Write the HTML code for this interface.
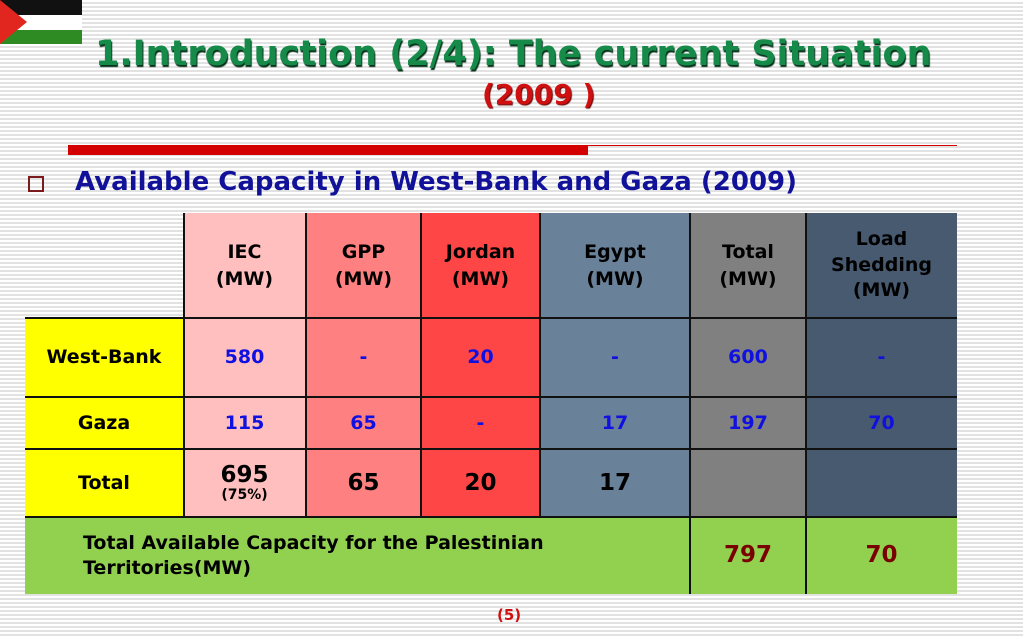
<!DOCTYPE html>
<html><head><meta charset="utf-8"><style>
body{margin:0;width:1023px;height:638px;overflow:hidden;position:relative;font-family:"DejaVu Sans","Liberation Sans",sans-serif;
background:repeating-linear-gradient(to bottom,#fff 0,#fff 2px,#e2e2e2 2px,#e2e2e2 4px);}
.a{position:absolute}
.c{position:absolute;box-sizing:border-box;display:flex;align-items:center;justify-content:center;text-align:center;font-family:"DejaVu Sans","Liberation Sans",sans-serif;font-weight:bold;font-size:19px;color:#000;line-height:1.4}
.b{color:#1010e0}
.ln{position:absolute;background:#111}
</style></head><body>
<svg class="a" style="left:0;top:0" width="82" height="44">
<rect width="82" height="15" fill="#111"/><rect y="15" width="82" height="15" fill="#fff"/><rect y="30" width="82" height="14" fill="#2e8b24"/>
<polygon points="0,0 27,22 0,44" fill="#e0261f"/></svg>
<div class="a" style="left:95px;top:34px;white-space:nowrap;font-size:35px;font-weight:bold;color:#168a48;text-shadow:1px 2px 1px #06301a">1.Introduction (2/4): The current Situation</div>
<div class="a" style="left:482px;top:78px;font-size:28px;font-weight:bold;color:#d01010;text-shadow:1px 1px 1px #600">(2009 )</div>
<div class="a" style="left:68px;top:145px;width:520px;height:10px;background:#d40000"></div>
<div class="a" style="left:588px;top:145px;width:369px;height:1px;background:#d40000"></div>
<div class="a" style="left:28px;top:176px;width:16px;height:16px;border:2px solid #7a1a1a;box-sizing:border-box"></div>
<div class="a" style="left:75px;top:167px;white-space:nowrap;font-size:26px;font-weight:bold;color:#111199">Available Capacity in West-Bank and Gaza (2009)</div>

<div class="c" style="left:183px;top:213px;width:123px;height:105px;background:#ffbfbf">IEC<br>(MW)</div>
<div class="c" style="left:306px;top:213px;width:115px;height:105px;background:#ff8080">GPP<br>(MW)</div>
<div class="c" style="left:421px;top:213px;width:119px;height:105px;background:#ff4646">Jordan<br>(MW)</div>
<div class="c" style="left:540px;top:213px;width:150px;height:105px;background:#6a8299">Egypt<br>(MW)</div>
<div class="c" style="left:690px;top:213px;width:116px;height:105px;background:#808080">Total<br>(MW)</div>
<div class="c" style="left:806px;top:213px;width:151px;height:105px;background:#475a70;line-height:1.35">Load<br>Shedding<br>(MW)</div>

<div class="c" style="left:25px;top:318px;width:158px;height:79px;background:#ffff00">West-Bank</div>
<div class="c b" style="left:183px;top:318px;width:123px;height:79px;background:#ffbfbf">580</div>
<div class="c b" style="left:306px;top:318px;width:115px;height:79px;background:#ff8080">-</div>
<div class="c b" style="left:421px;top:318px;width:119px;height:79px;background:#ff4646">20</div>
<div class="c b" style="left:540px;top:318px;width:150px;height:79px;background:#6a8299">-</div>
<div class="c b" style="left:690px;top:318px;width:116px;height:79px;background:#808080">600</div>
<div class="c b" style="left:806px;top:318px;width:151px;height:79px;background:#475a70">-</div>

<div class="c" style="left:25px;top:397px;width:158px;height:52px;background:#ffff00">Gaza</div>
<div class="c b" style="left:183px;top:397px;width:123px;height:52px;background:#ffbfbf">115</div>
<div class="c b" style="left:306px;top:397px;width:115px;height:52px;background:#ff8080">65</div>
<div class="c b" style="left:421px;top:397px;width:119px;height:52px;background:#ff4646">-</div>
<div class="c b" style="left:540px;top:397px;width:150px;height:52px;background:#6a8299">17</div>
<div class="c b" style="left:690px;top:397px;width:116px;height:52px;background:#808080">197</div>
<div class="c b" style="left:806px;top:397px;width:151px;height:52px;background:#475a70">70</div>

<div class="c" style="left:25px;top:449px;width:158px;height:68px;background:#ffff00">Total</div>
<div class="c" style="left:183px;top:449px;width:123px;height:68px;background:#ffbfbf;flex-direction:column;font-size:23px;line-height:1.1">695<span style="font-size:14px">(75%)</span></div>
<div class="c" style="left:306px;top:449px;width:115px;height:68px;background:#ff8080;font-size:23px">65</div>
<div class="c" style="left:421px;top:449px;width:119px;height:68px;background:#ff4646;font-size:23px">20</div>
<div class="c" style="left:540px;top:449px;width:150px;height:68px;background:#6a8299;font-size:23px">17</div>
<div class="c" style="left:690px;top:449px;width:116px;height:68px;background:#808080"></div>
<div class="c" style="left:806px;top:449px;width:151px;height:68px;background:#475a70"></div>

<div class="c" style="left:25px;top:517px;width:665px;height:77px;background:#92d050;justify-content:flex-start;text-align:left;padding-left:58px;font-size:19px;line-height:1.3">Total Available Capacity for the Palestinian<br>Territories(MW)</div>
<div class="c" style="left:690px;top:517px;width:116px;height:77px;background:#92d050;color:#7a0000;font-size:23px">797</div>
<div class="c" style="left:806px;top:517px;width:151px;height:77px;background:#92d050;color:#7a0000;font-size:23px">70</div>

<div class="ln" style="left:183px;top:213px;width:2px;height:304px"></div>
<div class="ln" style="left:305px;top:213px;width:2px;height:304px"></div>
<div class="ln" style="left:420px;top:213px;width:2px;height:304px"></div>
<div class="ln" style="left:539px;top:213px;width:2px;height:304px"></div>
<div class="ln" style="left:689px;top:213px;width:2px;height:381px"></div>
<div class="ln" style="left:805px;top:213px;width:2px;height:381px"></div>
<div class="ln" style="left:25px;top:317px;width:932px;height:2px"></div>
<div class="ln" style="left:25px;top:396px;width:932px;height:2px"></div>
<div class="ln" style="left:25px;top:448px;width:932px;height:2px"></div>
<div class="ln" style="left:25px;top:516px;width:932px;height:2px"></div>

<div class="a" style="left:497px;top:606px;font-size:15px;font-weight:bold;color:#d01010">(5)</div>
</body></html>
